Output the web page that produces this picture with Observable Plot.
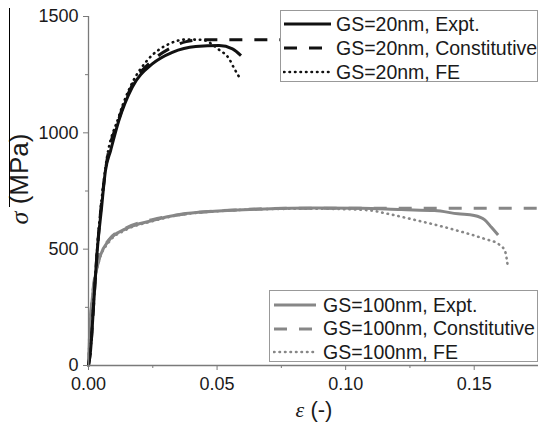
<!DOCTYPE html>
<html>
<head>
<meta charset="utf-8">
<script src="https://cdn.jsdelivr.net/npm/d3@7"></script>
<script src="https://cdn.jsdelivr.net/npm/@observablehq/plot@0.6"></script>
<style>
  html, body { margin: 0; padding: 0; background: #fff; }
  #wrap { position: relative; width: 538px; height: 429px; font-family: "Liberation Sans", Arial, sans-serif; }
  .legend { position: absolute; background: #fff; border: 1px solid #999; box-sizing: border-box; }
  .row { position: absolute; left: 0; height: 24px; display: flex; align-items: center; font-size: 19.5px; color: #1a1a1a; white-space: nowrap; }
  #edge { position: absolute; left: 9px; top: 8px; width: 1px; height: 199px; background: #000; }
</style>
</head>
<body>
<div id="wrap"><div id="edge"></div></div>
<script>
// ---- data ----
const expt20X = [0, 0.0008, 0.0021, 0.0034, 0.005, 0.0066, 0.0086, 0.0118, 0.017, 0.0248, 0.0326, 0.0417, 0.0508, 0.056, 0.0593];
const expt20Y = [0, 64, 280, 494, 670, 838, 924, 1053, 1196, 1296, 1346, 1371, 1375, 1361, 1332];

const const20X = [0, 0.0008, 0.0021, 0.0034, 0.0066, 0.0118, 0.017, 0.0248, 0.032, 0.038, 0.044, 0.175];
const const20Y = [0, 64, 280, 494, 838, 1060, 1205, 1310, 1365, 1392, 1400, 1400];

const fe20X = [0, 0.0008, 0.0021, 0.0034, 0.0066, 0.0118, 0.017, 0.0222, 0.0313, 0.0378, 0.044, 0.0508, 0.0547, 0.0566, 0.0586];
const fe20Y = [0, 70, 290, 505, 850, 1070, 1215, 1303, 1382, 1401, 1400, 1357, 1318, 1278, 1240];

const expt100X = [0, 0.0005, 0.0014, 0.004, 0.0079, 0.0144, 0.0248, 0.0359, 0.0489, 0.0683, 0.0879, 0.106, 0.1216, 0.1346, 0.1437, 0.150, 0.1541, 0.1567, 0.1593];
const expt100Y = [0, 150, 280, 451, 537, 587, 623, 650, 663, 673, 677, 676, 670, 666, 652, 645, 626, 594, 561];

const const100X = [0, 0.0005, 0.0014, 0.004, 0.0079, 0.0144, 0.0248, 0.04, 0.06, 0.08, 0.175];
const const100Y = [0, 150, 285, 455, 540, 590, 627, 655, 670, 676, 676];

const fe100X = [0, 0.0005, 0.0014, 0.004, 0.0079, 0.0144, 0.0248, 0.0359, 0.0489, 0.0683, 0.0879, 0.1, 0.11, 0.1151, 0.128, 0.1411, 0.1541, 0.1593, 0.1619, 0.1632];
const fe100Y = [0, 145, 275, 445, 530, 582, 620, 648, 662, 672, 674, 672, 666, 655, 623, 587, 544, 523, 494, 416];

const xMajor = [0, 0.05, 0.10, 0.15];
const xMinor = [0.025, 0.075, 0.125, 0.175];
const yMajor = [0, 500, 1000, 1500];
const yMinor = [250, 750, 1250];

const legend20 = ["GS=20nm, Expt.", "GS=20nm, Constitutive", "GS=20nm, FE"];
const legend100 = ["GS=100nm, Expt.", "GS=100nm, Constitutive", "GS=100nm, FE"];

// ---- styles ----
const black = "#111";
const gray = "#878787";
const styles = [
  {dash: null, width: 3},
  {dash: "13,12", width: 3},
  {dash: "0.5,5", width: 2.6, cap: "round"}
];

const pts = (xs, ys) => xs.map((x, i) => ({x, y: ys[i]}));

const series = [
  {d: pts(expt100X, expt100Y), c: gray, s: styles[0]},
  {d: pts(const100X, const100Y), c: gray, s: styles[1]},
  {d: pts(fe100X, fe100Y), c: gray, s: styles[2]},
  {d: pts(expt20X, expt20Y), c: black, s: styles[0]},
  {d: pts(const20X, const20Y), c: black, s: styles[1]},
  {d: pts(fe20X, fe20Y), c: black, s: styles[2]}
];

const axisColor = "#7a7a7a";

const chart = Plot.plot({
  width: 538,
  height: 429,
  marginLeft: 88,
  marginRight: 0,
  marginTop: 16,
  marginBottom: 64,
  style: {fontFamily: "'Liberation Sans', Arial, sans-serif", background: "#fff", color: "#1a1a1a"},
  x: {domain: [0, 0.175]},
  y: {domain: [0, 1500]},
  marks: [
    ...series.map(({d, c, s}) => Plot.line(d, {
      x: "x", y: "y", stroke: c, strokeWidth: s.width,
      strokeDasharray: s.dash, curve: "monotone-x",
      strokeLinecap: s.cap || "butt"
    })),
    Plot.ruleX([0], {stroke: axisColor, strokeWidth: 1.3}),
    Plot.ruleY([0], {stroke: axisColor, strokeWidth: 1.3}),
    Plot.axisX({ticks: xMajor, tickFormat: d3.format(".2f"), tickSize: 5, tickPadding: 7, fontSize: 18, stroke: axisColor, label: null}),
    Plot.axisX({ticks: xMinor, tickFormat: () => "", tickSize: 3, stroke: axisColor, label: null}),
    Plot.axisY({ticks: yMajor, tickFormat: d => String(d), tickSize: 5, tickPadding: 5, fontSize: 18, stroke: axisColor, label: null}),
    Plot.axisY({ticks: yMinor, tickFormat: () => "", tickSize: 3, stroke: axisColor, label: null})
  ]
});

const svg = d3.select(chart);
// x label
const xl = svg.append("text").attr("x", 314).attr("y", 417).attr("text-anchor", "middle")
  .attr("font-size", 22).attr("fill", "#1a1a1a");
xl.append("tspan").attr("font-style", "italic").attr("font-family", "'Liberation Serif', serif").text("ε");
xl.append("tspan").text(" (-)");
// y label
const yl = svg.append("text").attr("transform", "translate(28,179) rotate(-90)").attr("text-anchor", "middle")
  .attr("font-size", 26).attr("fill", "#1a1a1a");
yl.append("tspan").attr("font-style", "italic").attr("font-family", "'Liberation Serif', serif").text("σ");
yl.append("tspan").text(" (MPa)");

const wrap = document.getElementById("wrap");
wrap.appendChild(chart);

function makeLegend(labels, color, box, lineX0, lineX1, textX) {
  const div = document.createElement("div");
  div.className = "legend";
  Object.assign(div.style, {left: box.left + "px", top: box.top + "px", width: box.w + "px", height: box.h + "px"});
  labels.forEach((lab, i) => {
    const row = document.createElement("div");
    row.className = "row";
    row.style.top = (box.rowTop + i * box.rowGap - 12) + "px";
    row.style.left = lineX0 + "px";
    const s = styles[i];
    const w = lineX1 - lineX0;
    row.innerHTML = `<svg width="${w}" height="10"><line x1="1" x2="${w}" y1="5" y2="5" stroke="${color}" stroke-width="${s.width}" ${s.dash ? `stroke-dasharray="${s.dash}"` : ""} ${s.cap ? `stroke-linecap="${s.cap}"` : ""}/></svg><span>${lab}</span>`;
    row.querySelector("svg").style.marginRight = (textX - lineX1) + "px";
    div.appendChild(row);
  });
  wrap.appendChild(div);
}
makeLegend(legend20, black, {left: 280, top: 10, w: 258, h: 72, rowTop: 13, rowGap: 24}, 2, 50, 55);
makeLegend(legend100, gray, {left: 269, top: 290, w: 269, h: 72, rowTop: 14, rowGap: 23.5}, 3, 46, 53);
wrap.appendChild(document.getElementById("edge"));
</script>
</body>
</html>
